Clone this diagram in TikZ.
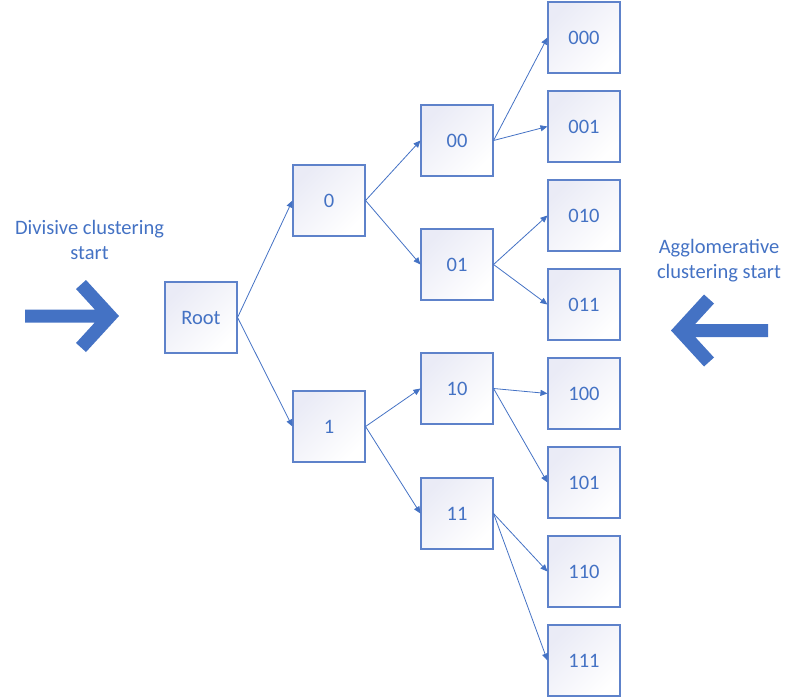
\documentclass[tikz,border=0pt]{standalone}
\usepackage{fontspec}
\setmainfont{Carlito}
\usetikzlibrary{arrows.meta}
\definecolor{ob}{HTML}{4472C4}
\definecolor{boxline}{HTML}{5E82CA}
\definecolor{fillc}{HTML}{EAEBF6}
\begin{document}
\begin{tikzpicture}[x=1pt,y=-1pt,
  box/.style={draw=boxline, line width=1.1pt, minimum width=72pt, minimum height=71pt,
    inner sep=0pt, text=ob, font=\fontsize{20.5}{25}\selectfont,
    top color=fillc, bottom color=white, shading angle=45},
  edge/.style={draw=ob, line width=0.8pt, -{Triangle[length=7pt,width=6pt]}},
  lbl/.style={text=ob, font=\fontsize{20.5}{25}\selectfont, align=center, inner sep=0pt},
  bigarrow/.style={fill=ob, draw=none}]
\useasboundingbox (0,0) rectangle (798,699);

\node[box] (root) at (201,317.5) {Root};
\node[box] (n0) at (329,200.5) {0};
\node[box] (n1) at (329,426.5) {1};
\node[box] (n00) at (457,140.5) {00};
\node[box] (n01) at (457,264.5) {01};
\node[box] (n10) at (457,388.5) {10};
\node[box] (n11) at (457,513.5) {11};
\node[box] (n000) at (584,37.5) {000};
\node[box] (n001) at (584,126.5) {001};
\node[box] (n010) at (584,215.5) {010};
\node[box] (n011) at (584,304.5) {011};
\node[box] (n100) at (584,393.5) {100};
\node[box] (n101) at (584,482.5) {101};
\node[box] (n110) at (584,571.5) {110};
\node[box] (n111) at (584,660.5) {111};

\draw[edge] (root.east) -- (n0.west);
\draw[edge] (root.east) -- (n1.west);
\draw[edge] (n0.east) -- (n00.west);
\draw[edge] (n0.east) -- (n01.west);
\draw[edge] (n1.east) -- (n10.west);
\draw[edge] (n1.east) -- (n11.west);
\draw[edge] (n00.east) -- (n000.west);
\draw[edge] (n00.east) -- (n001.west);
\draw[edge] (n01.east) -- (n010.west);
\draw[edge] (n01.east) -- (n011.west);
\draw[edge] (n10.east) -- (n100.west);
\draw[edge] (n10.east) -- (n101.west);
\draw[edge] (n11.east) -- (n110.west);
\draw[edge] (n11.east) -- (n111.west);

\node[lbl, anchor=base] (divl) at (89.5,259) {Divisive clustering\\start};
\node[lbl, anchor=base] (aggl) at (719,278) {Agglomerative\\clustering start};

% big arrows
\fill[bigarrow] (25,309.5) -- (94.8,309.5) -- (76,289) -- (86,280) -- (119,316)
  -- (86,352) -- (76,343) -- (94.8,322.5) -- (25,322.5) -- cycle;
\fill[bigarrow] (768,324) -- (695.2,324) -- (714,303.5) -- (704,294.5) -- (671,330.5)
  -- (704,366.5) -- (714,357.5) -- (695.2,337) -- (768,337) -- cycle;
\end{tikzpicture}
\end{document}
